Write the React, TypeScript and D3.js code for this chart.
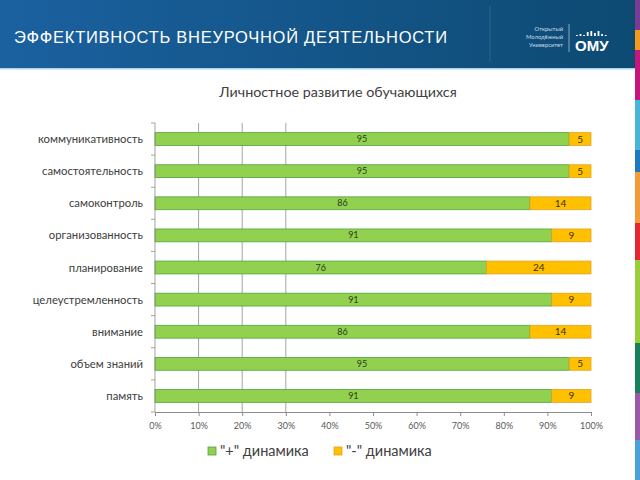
import React, { useEffect, useRef } from 'react';
import * as d3 from 'd3';

const categories = [
  'коммуникативность',
  'самостоятельность',
  'самоконтроль',
  'организованность',
  'планирование',
  'целеустремленность',
  'внимание',
  'объем знаний',
  'память',
];
const plusValues = [95, 95, 86, 91, 76, 91, 86, 95, 91];
const minusValues = [5, 5, 14, 9, 24, 9, 14, 5, 9];
const xTicks = [0, 10, 20, 30, 40, 50, 60, 70, 80, 90, 100];
const gridTicks = [10, 20, 30];
const seriesLabels = ['"+" динамика', '"-" динамика'];

const stripe = [
  { y0: 0, y1: 30, c: '#7a3b94' },
  { y0: 30, y1: 50, c: '#f29a1f' },
  { y0: 50, y1: 100, c: '#c3177c' },
  { y0: 100, y1: 150, c: '#47b4d8' },
  { y0: 150, y1: 172, c: '#1f78c0' },
  { y0: 172, y1: 223, c: '#f39a3a' },
  { y0: 223, y1: 260, c: '#e3262f' },
  { y0: 260, y1: 343, c: '#9acd3c' },
  { y0: 343, y1: 393, c: '#17805a' },
  { y0: 393, y1: 440, c: '#9a5aa8' },
  { y0: 440, y1: 480, c: '#4aa0d8' },
];

const W = 640;
const H = 480;
const font = 'Lato, "Open Sans", sans-serif';

export default function App() {
  const ref = useRef<SVGSVGElement>(null);

  useEffect(() => {
    document.body.style.margin = '0';
    if (!ref.current) return;
    const svg = d3.select(ref.current);
    svg.selectAll('*').remove();

    // header
    const defs = svg.append('defs');
    const g = defs.append('linearGradient').attr('id', 'hdr').attr('x1', '0%').attr('x2', '100%');
    g.append('stop').attr('offset', '0%').attr('stop-color', '#1b61a0');
    g.append('stop').attr('offset', '100%').attr('stop-color', '#0d4a72');

    svg.append('rect').attr('width', W).attr('height', H).attr('fill', '#ffffff');
    svg.append('rect').attr('width', W).attr('height', 68).attr('fill', 'url(#hdr)');
    svg.append('rect').attr('y', 68).attr('width', W).attr('height', 1.5).attr('fill', '#a9d6ee');

    svg.append('text')
      .attr('x', 14).attr('y', 43)
      .attr('fill', '#ffffff')
      .attr('font-family', '"Liberation Sans", Arial, sans-serif')
      .attr('font-size', 16.5)
      .attr('textLength', 433)
      .text('ЭФФЕКТИВНОСТЬ ВНЕУРОЧНОЙ ДЕЯТЕЛЬНОСТИ');

    svg.append('line').attr('x1', 490).attr('x2', 490).attr('y1', 6).attr('y2', 62)
      .attr('stroke', '#ffffff').attr('stroke-opacity', 0.12);
    svg.append('line').attr('x1', 569).attr('x2', 569).attr('y1', 24).attr('y2', 52)
      .attr('stroke', '#ffffff').attr('stroke-opacity', 0.5);
    ['Открытый', 'Молодёжный', 'Университет'].forEach((t, i) => {
      svg.append('text')
        .attr('x', 563).attr('y', 31 + i * 8)
        .attr('text-anchor', 'end')
        .attr('fill', '#c8dbea')
        .attr('font-family', font)
        .attr('font-size', 5.8)
        .text(t);
    });
    const barsH = [1, 2, 1, 4, 5, 3, 5, 2, 1];
    barsH.forEach((h, i) => {
      svg.append('rect')
        .attr('x', 576 + i * 3.6).attr('y', 36 - h).attr('width', 1.8).attr('height', h)
        .attr('fill', '#ffffff');
    });
    svg.append('text')
      .attr('x', 575).attr('y', 51)
      .attr('fill', '#ffffff')
      .attr('font-family', '"Liberation Sans", Arial, sans-serif')
      .attr('font-weight', 'bold')
      .attr('font-size', 15)
      .text('ОМУ');

    // right colour stripe
    svg.selectAll('.stripe').data(stripe).enter().append('rect')
      .attr('x', 635).attr('width', 5)
      .attr('y', d => d.y0).attr('height', d => d.y1 - d.y0)
      .attr('fill', d => d.c);

    // chart title
    svg.append('text')
      .attr('x', 338).attr('y', 97)
      .attr('text-anchor', 'middle')
      .attr('fill', '#404040')
      .attr('font-family', font)
      .attr('font-size', 14.3)
      .text('Личностное развитие обучающихся');

    const margin = { left: 155, right: 591, top: 123, bottom: 412 };
    const x = d3.scaleLinear().domain([0, 100]).range([margin.left, margin.right]);
    const y = d3.scaleBand().domain(categories).range([margin.top, margin.bottom]).paddingInner(0.6).paddingOuter(0.3);

    // grid
    svg.append('g').selectAll('line').data(gridTicks).enter().append('line')
      .attr('x1', d => x(d)).attr('x2', d => x(d))
      .attr('y1', margin.top).attr('y2', margin.bottom)
      .attr('stroke', '#8c8c8c').attr('stroke-width', 0.8);

    // bars
    const bh = y.bandwidth();
    categories.forEach((c, i) => {
      const y0 = y(c)!;
      svg.append('rect')
        .attr('x', x(0)).attr('y', y0)
        .attr('width', x(plusValues[i]) - x(0)).attr('height', bh)
        .attr('fill', '#92d050').attr('stroke', '#4fa53a').attr('stroke-width', 0.8);
      svg.append('rect')
        .attr('x', x(plusValues[i])).attr('y', y0)
        .attr('width', x(plusValues[i] + minusValues[i]) - x(plusValues[i])).attr('height', bh)
        .attr('fill', '#ffc000').attr('stroke', '#e0a228').attr('stroke-width', 0.8);
      svg.append('text')
        .attr('x', x(plusValues[i] / 2)).attr('y', y0 + bh / 2 + 3)
        .attr('text-anchor', 'middle')
        .attr('fill', '#2a3a1a')
        .attr('font-family', font)
        .attr('font-size', 9)
        .text(plusValues[i]);
      svg.append('text')
        .attr('x', x(plusValues[i] + minusValues[i] / 2)).attr('y', y0 + bh / 2 + 3.5)
        .attr('text-anchor', 'middle')
        .attr('fill', '#3a3000')
        .attr('font-family', font)
        .attr('font-size', 10)
        .text(minusValues[i]);
      svg.append('text')
        .attr('x', 143).attr('y', y0 + bh / 2 + 4)
        .attr('text-anchor', 'end')
        .attr('fill', '#404040')
        .attr('font-family', font)
        .attr('font-size', 11.3)
        .text(c);
    });

    // y axis line + ticks between bands
    svg.append('line')
      .attr('x1', margin.left).attr('x2', margin.left)
      .attr('y1', margin.top).attr('y2', margin.bottom)
      .attr('stroke', '#8c8c8c').attr('stroke-width', 0.8);
    const step = (margin.bottom - margin.top) / categories.length;
    d3.range(categories.length + 1).forEach(i => {
      const yy = margin.top + i * step;
      svg.append('line')
        .attr('x1', margin.left - 4).attr('x2', margin.left)
        .attr('y1', yy).attr('y2', yy)
        .attr('stroke', '#8c8c8c').attr('stroke-width', 0.8);
    });

    // x axis
    svg.append('g')
      .attr('transform', `translate(0,${margin.bottom})`)
      .call(d3.axisBottom(x).tickValues(xTicks).tickSize(4).tickPadding(7).tickFormat(d => `${d}%`))
      .call(a => a.select('.domain').attr('stroke', '#8c8c8c'))
      .call(a => a.selectAll('.tick line').attr('stroke', '#8c8c8c'))
      .call(a => a.selectAll('text').attr('fill', '#595959').attr('font-family', font).attr('font-size', 9));

    // legend
    const leg = [
      { x: 208, c: '#92d050', s: '#4fa53a' },
      { x: 334, c: '#ffc000', s: '#e0a228' },
    ];
    leg.forEach((l, i) => {
      svg.append('rect')
        .attr('x', l.x).attr('y', 447).attr('width', 8).attr('height', 8)
        .attr('fill', l.c).attr('stroke', l.s).attr('stroke-width', 0.8);
      svg.append('text')
        .attr('x', l.x + 12).attr('y', 456)
        .attr('fill', '#404040')
        .attr('font-family', font)
        .attr('font-size', 14.5)
        .text(seriesLabels[i]);
    });
  }, []);

  return <svg ref={ref} width={W} height={H} style={{ display: 'block' }} />;
}
